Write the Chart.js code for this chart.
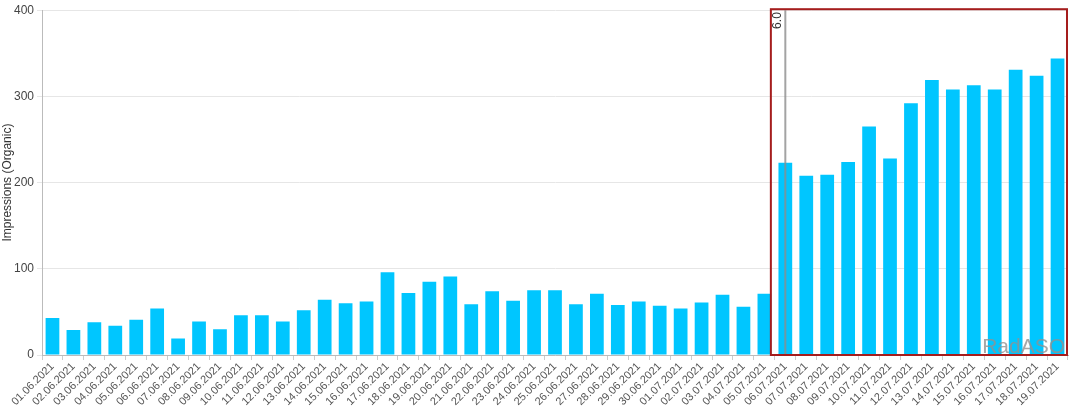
<!DOCTYPE html>
<html>
<head>
<meta charset="utf-8">
<script src="https://cdn.jsdelivr.net/npm/chart.js@4/dist/chart.umd.min.js"></script>
<style>
html,body{margin:0;padding:0;background:#fff;}
#wrap{width:1070px;height:415px;position:relative;}
</style>
</head>
<body>
<div id="wrap"><canvas id="c"></canvas></div>
<script>
const categories = [
 "01.06.2021","02.06.2021","03.06.2021","04.06.2021","05.06.2021","06.06.2021","07.06.2021","08.06.2021","09.06.2021","10.06.2021",
 "11.06.2021","12.06.2021","13.06.2021","14.06.2021","15.06.2021","16.06.2021","17.06.2021","18.06.2021","19.06.2021","20.06.2021",
 "21.06.2021","22.06.2021","23.06.2021","24.06.2021","25.06.2021","26.06.2021","27.06.2021","28.06.2021","29.06.2021","30.06.2021",
 "01.07.2021","02.07.2021","03.07.2021","04.07.2021","05.07.2021","06.07.2021","07.07.2021","08.07.2021","09.07.2021","10.07.2021",
 "11.07.2021","12.07.2021","13.07.2021","14.07.2021","15.07.2021","16.07.2021","17.07.2021","18.07.2021","19.07.2021"
];
const impressions = [
 43,29,38,34,41,54,19,39,30,46,
 46,39,52,64,60,62,96,72,85,91,
 59,74,63,75,75,59,71,58,62,57,
 54,61,70,56,71,223,208,209,224,265,
 228,292,319,308,313,308,331,324,344
];
const yTicks = [0,100,200,300,400];
const markerCategory = "06.07.2021";
const markerLabel = "6.0";
const highlightStart = "06.07.2021";
const watermark = "RadASO";

const overlay = {
  id: 'overlay',
  afterDatasetsDraw(chart) {
    const {ctx, chartArea, scales} = chart;
    const x = scales.x, y = scales.y;
    const si = categories.indexOf(highlightStart);
    const step = x.getPixelForValue(1) - x.getPixelForValue(0);
    const top = y.getPixelForValue(400), bottom = y.getPixelForValue(0);
    const mx = x.getPixelForValue(categories.indexOf(markerCategory));
    ctx.save();
    ctx.strokeStyle = 'rgba(140,140,140,0.8)';
    ctx.lineWidth = 2;
    ctx.beginPath();
    ctx.moveTo(mx, top);
    ctx.lineTo(mx, bottom);
    ctx.stroke();
    ctx.translate(mx - 8, top + 2);
    ctx.rotate(-Math.PI/2);
    ctx.fillStyle = '#333';
    ctx.font = '12px "Liberation Sans", Arial, sans-serif';
    ctx.textAlign = 'right';
    ctx.textBaseline = 'middle';
    ctx.fillText(markerLabel, 0, 0);
    ctx.restore();
    ctx.save();
    ctx.fillStyle = 'rgba(145,145,145,0.8)';
    ctx.font = '21px "Liberation Sans", Arial, sans-serif';
    ctx.textAlign = 'right';
    ctx.textBaseline = 'alphabetic';
    ctx.fillText(watermark, chartArea.right - 3, bottom - 2);
    ctx.restore();
    const left = x.getPixelForValue(si) - step/2 - 4;
    ctx.save();
    ctx.strokeStyle = '#a51d1d';
    ctx.lineWidth = 2;
    ctx.strokeRect(left, top - 1, chartArea.right - left - 1, bottom - top + 1);
    ctx.restore();
  }
};

new Chart(document.getElementById('c'), {
  type: 'bar',
  data: {
    labels: categories,
    datasets: [{
      label: 'Impressions (Organic)',
      data: impressions,
      backgroundColor: '#00c6ff',
      borderColor: '#00c6ff',
      borderWidth: 0,
      categoryPercentage: 0.8,
      barPercentage: 0.82
    }]
  },
  options: {
    responsive: true,
    maintainAspectRatio: false,
    animation: false,
    layout: { padding: { top: 0, right: 2, left: 0, bottom: 0 } },
    plugins: { legend: { display: false }, tooltip: { enabled: false } },
    scales: {
      x: {
        offset: true,
        grid: { display: true, drawOnChartArea: false, drawTicks: true, tickLength: 5, color: '#cccccc', offset: true },
        border: { display: true, color: '#bbbbbb' },
        ticks: {
          autoSkip: false, maxRotation: 45, minRotation: 45,
          color: '#555', font: { family: '"Liberation Sans", Arial, sans-serif', size: 11 },
          padding: 0
        },
        afterFit(s) { s.height = 60; }
      },
      y: {
        min: 0, max: 400,
        afterBuildTicks(s) { s.ticks = yTicks.map(v => ({ value: v })); },
        grid: { color: '#e6e6e6', tickLength: 5, drawTicks: true },
        border: { display: true, color: '#bbbbbb' },
        ticks: { color: '#444', padding: 3, font: { family: '"Liberation Sans", Arial, sans-serif', size: 12 } },
        title: { display: true, text: 'Impressions (Organic)', color: '#333', padding: 0, font: { family: '"Liberation Sans", Arial, sans-serif', size: 12 } },
        afterFit(s) { s.width = 42; }
      }
    }
  },
  plugins: [overlay]
});
</script>
</body>
</html>
